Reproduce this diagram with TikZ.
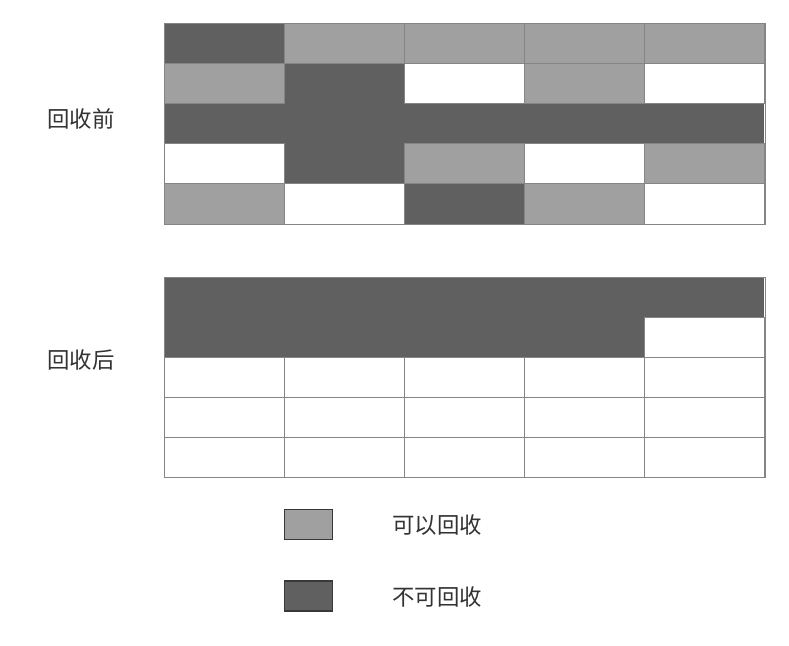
\documentclass[tikz,border=0pt]{standalone}
\usepackage{fontspec}
\newfontfamily\cjk{Noto Sans CJK SC}
\definecolor{keep}{HTML}{606060}
\definecolor{free}{HTML}{A0A0A0}
\definecolor{cellline}{HTML}{858585}
\definecolor{boxline}{HTML}{383838}

\begin{document}
\begin{tikzpicture}[x=1bp, y=-1bp,
    lbl/.style={font=\cjk\fontsize{22.5}{26}\selectfont, text=black!80, inner sep=0pt},
    legbox/.style={draw=boxline, line width=1.5bp, minimum width=48bp, minimum height=30bp, inner sep=0pt},
    rim keep/.style={draw=none},
    rim free/.style={draw=cellline, line width=1bp},
    rim white/.style={draw=cellline, line width=1bp}]
  \useasboundingbox (0,0) rectangle (789,646);

  % heap before and after collection
  \foreach \top/\cells in {24/{keep,free,free,free,free, free,keep,white,free,white, keep,keep,keep,keep,keep, white,keep,free,white,free, free,white,keep,free,white},
                           277/{keep,keep,keep,keep,keep, keep,keep,keep,keep,white, white,white,white,white,white, white,white,white,white,white, white,white,white,white,white}} {
    \foreach \c [count=\i from 0] in \cells {
      \pgfmathtruncatemacro\col{mod(\i,5)}
      \pgfmathtruncatemacro\row{\i/5}
      \fill[\c] (164+120*\col, \top+40*\row) rectangle ++(120,40);
    }
    \foreach \c [count=\i from 0] in \cells {
      \pgfmathtruncatemacro\col{mod(\i,5)}
      \pgfmathtruncatemacro\row{\i/5}
      \path[rim \c] (164+120*\col, \top+40*\row) rectangle ++(120,40);
    }
    \draw[cellline, line width=1bp] (164,\top) rectangle ++(601,200);
  }

  \node[lbl] (before) at (81,119) {回收前};
  \node[lbl] (after) at (81,360) {回收后};

  % legend
  \node[legbox, fill=free] (freebox) at (308.5,524.5) {};
  \node[lbl, anchor=west] (freetext) at (392,525) {可以回收};
  \node[legbox, fill=keep] (keepbox) at (308.5,596) {};
  \node[lbl, anchor=west] (keeptext) at (392,597) {不可回收};
\end{tikzpicture}
\end{document}
